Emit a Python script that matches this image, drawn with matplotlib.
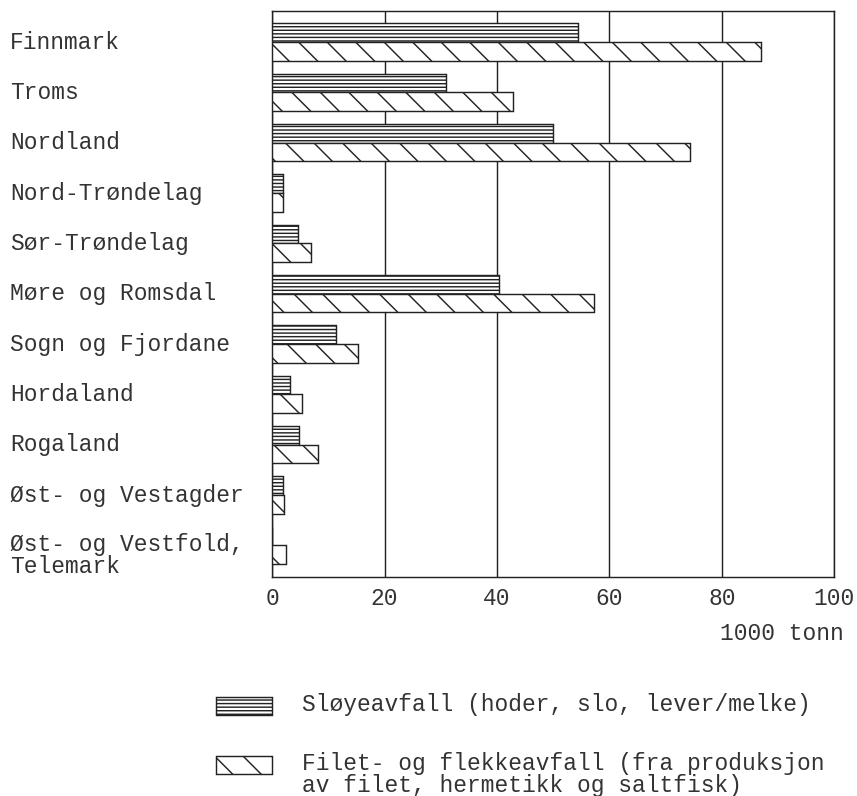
import matplotlib
matplotlib.use("Agg")
import matplotlib.pyplot as plt
from matplotlib.patches import Rectangle
from matplotlib.transforms import blended_transform_factory
import numpy as np

categories = ["Finnmark", "Troms", "Nordland", "Nord-Trøndelag", "Sør-Trøndelag",
              "Møre og Romsdal", "Sogn og Fjordane", "Hordaland", "Rogaland",
              "Øst- og Vestagder", "Øst- og Vestfold,\nTelemark"]
sloyeavfall = [54.5, 30.9, 49.9, 1.9, 4.6, 40.4, 11.4, 3.1, 4.8, 1.9, 0.0]
filetavfall = [87.0, 42.8, 74.4, 2.0, 6.9, 57.3, 15.2, 5.4, 8.2, 2.2, 2.4]
xticks = [0, 20, 40, 60, 80, 100]
legend_labels = ["Sløyeavfall (hoder, slo, lever/melke)",
                 "Filet- og flekkeavfall (fra produksjon\nav filet, hermetikk og saltfisk)"]

DPI = 171.4
W, H = 857, 796
plt.rcParams['font.family'] = ['Liberation Mono', 'DejaVu Sans Mono']
plt.rcParams['hatch.linewidth'] = 0.6
plt.rcParams['hatch.color'] = '#222222'
FS = 9.6
lw = 0.6
H_SLO = '--------'
H_FIL = '\\\\'

fig = plt.figure(figsize=((W + 0.3) / DPI, (H + 0.3) / DPI), dpi=DPI)
ax = fig.add_axes([272 / W, 1 - 577 / H, (834 - 272) / W, (577 - 11) / H])

pos = np.arange(len(categories))
bh = 0.37
ax.barh(pos - bh / 2, sloyeavfall, height=bh, color='white', edgecolor='#222222',
        linewidth=lw, hatch=H_SLO, zorder=3)
ax.barh(pos + bh / 2, filetavfall, height=bh, color='white', edgecolor='#222222',
        linewidth=lw, hatch=H_FIL, zorder=3)

ax.set_xlim(0, 100)
ax.set_ylim(10.63, -0.62)
ax.set_xticks(xticks)
ax.set_xticklabels([str(t) for t in xticks], fontsize=FS, color='#333333')
ax.tick_params(axis='x', length=0, pad=4)
ax.set_yticks([])
ax.grid(axis='x', color='#222222', linewidth=lw, zorder=0)
for s in ax.spines.values():
    s.set_linewidth(lw)
    s.set_color('#222222')

trans = blended_transform_factory(fig.transFigure, ax.transData)
for i, c in enumerate(categories):
    yy = i + (0.2 if '\n' in c else 0.0)
    ax.text(10 / W, yy, c, transform=trans, ha='left', va='center',
            fontsize=FS, color='#333333', linespacing=0.95)

fig.text(843 / W, 1 - 633 / H, "1000 tonn", ha='right', va='center',
         fontsize=FS, color='#333333')

# legend
hatches = [H_SLO, H_FIL]
ys = [706, 765]
for h, yc, lab in zip(hatches, ys, legend_labels):
    r = Rectangle((216 / W, 1 - (yc + 9) / H), 56 / W, 18 / H, transform=fig.transFigure,
                  facecolor='white', edgecolor='#222222', linewidth=lw, hatch=h)
    fig.add_artist(r)
    fig.text(302 / W, 1 - (yc - 13) / H, lab, ha='left', va='top', fontsize=FS,
             color='#333333', linespacing=0.92)

fig.savefig("out.png", dpi=DPI, facecolor='white')
